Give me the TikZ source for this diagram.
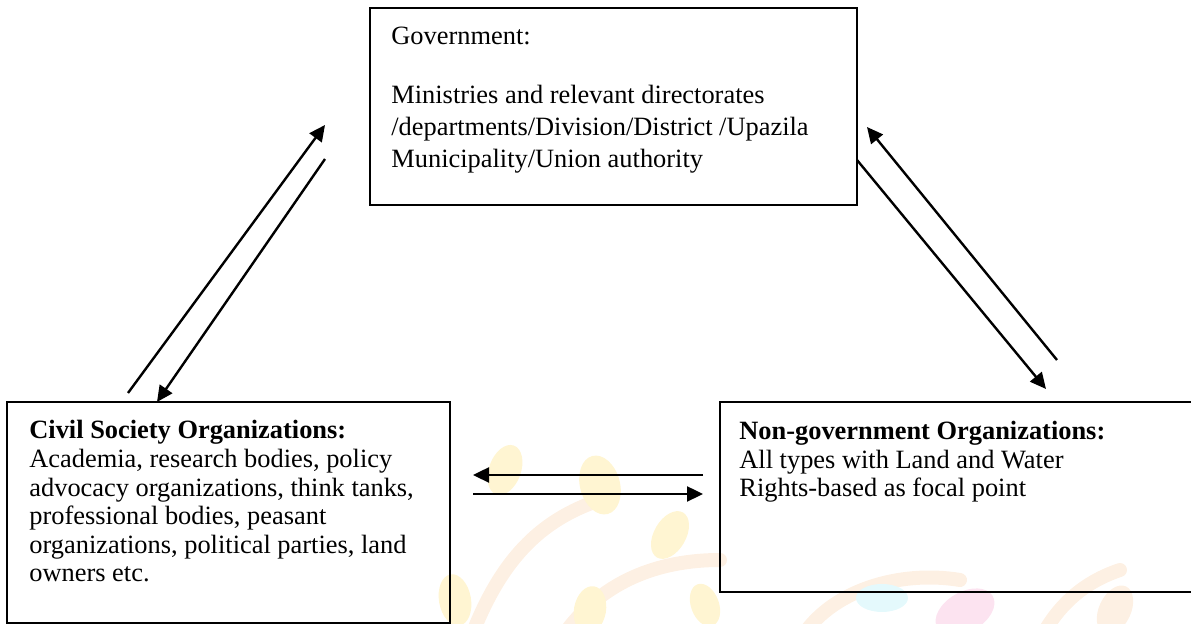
\documentclass[tikz,border=0pt]{standalone}
\usepackage{fontspec}
\setmainfont{Liberation Serif}
\usetikzlibrary{arrows.meta}
\definecolor{wmYellow}{HTML}{FFF5D2}
\definecolor{wmOrange}{HTML}{FDF0E3}
\definecolor{wmPink}{HTML}{FCE3F0}
\definecolor{wmCyan}{HTML}{E4F9FC}
\begin{document}
\begin{tikzpicture}[x=0.5pt,y=-0.5pt,
  box/.style={draw=black, line width=1.1pt, fill=none, inner sep=0pt},
  % anchor base west of a multi-line node sits on its last line
  txt/.style={anchor=base west, inner sep=0pt, align=left,
              font=\fontsize{13.2}{14.3}\selectfont},
  govtxt/.style={txt, font=\fontsize{13.2}{16}\selectfont},
  link/.style={line width=1.2pt, -{Triangle[length=8pt,width=7.5pt]}},
  leafY/.style={fill=wmYellow, draw=none},
  leafO/.style={fill=wmOrange, draw=none},
  leafP/.style={fill=wmPink, draw=none},
  leafC/.style={fill=wmCyan, draw=none},
  stem/.style={draw=wmOrange, line width=7pt, line cap=round}
]
\useasboundingbox (0,0) rectangle (1191,624);
\clip (0,0) rectangle (1191,624);

% faint tree logo in the background
\draw[stem] (470,640) .. controls (500,560) and (540,520) .. (600,500);
\draw[stem] (560,640) .. controls (600,580) and (660,560) .. (720,560);
\draw[stem] (800,640) .. controls (830,590) and (900,570) .. (960,580);
\draw[stem] (1040,640) .. controls (1060,600) and (1090,580) .. (1120,570);
\fill[leafY, rotate around={-20:(505,470)}] (505,470) ellipse (16 and 26);
\fill[leafY, rotate around={15:(600,485)}] (600,485) ellipse (20 and 30);
\fill[leafY, rotate around={-30:(670,535)}] (670,535) ellipse (16 and 26);
\fill[leafY, rotate around={10:(455,600)}] (455,600) ellipse (16 and 26);
\fill[leafY, rotate around={-10:(590,610)}] (590,610) ellipse (16 and 24);
\fill[leafY, rotate around={20:(705,605)}] (705,605) ellipse (14 and 22);
\fill[leafC] (882,598) ellipse (26 and 14);
\fill[leafP, rotate around={30:(965,612)}] (965,612) ellipse (32 and 20);
\fill[leafO, rotate around={-25:(1115,610)}] (1115,610) ellipse (16 and 26);

% boxes
\node[box, minimum width=243.5pt, minimum height=98.5pt] (gov) at (613.5,106.5) {};
\node[box, minimum width=221.5pt, minimum height=110.5pt] (cso) at (228.5,512.5) {};
\node[box, minimum width=240pt, minimum height=95pt] (ngo) at (960,497) {};

% box texts
\node[govtxt] (govhead) at (391,45) {Government:};
\node[govtxt] (govbody) at (391,168) {Ministries and relevant directorates\\
  /departments/Division/District /Upazila\\
  Municipality/Union authority};
\node[txt] (csotext) at (29,582) {\textbf{Civil Society Organizations:}\\
  Academia, research bodies, policy\\
  advocacy organizations, think tanks,\\
  professional bodies, peasant\\
  organizations, political parties, land\\
  owners etc.};
\node[txt] (ngotext) at (739,497) {\textbf{Non-government Organizations:}\\
  All types with Land and Water\\
  Rights-based as focal point};

% connector ends
\coordinate (csoUpStart) at (128,393);
\coordinate (govLeftIn) at (325,125);
\coordinate (govLeftOut) at (325,159);
\coordinate (csoTopIn) at (157,402);
\coordinate (ngoUpStart) at (1057,360);
\coordinate (govRightIn) at (867,127);
\coordinate (govRightOut) at (857,160);
\coordinate (ngoTopIn) at (1046,389);
\coordinate (ngoLeftOut) at (703,475);
\coordinate (csoRightIn) at (473,475);
\coordinate (csoRightOut) at (473,494);
\coordinate (ngoLeftIn) at (703,494);

% connectors
\draw[link] (csoUpStart) -- (govLeftIn);
\draw[link] (govLeftOut) -- (csoTopIn);
\draw[link] (ngoUpStart) -- (govRightIn);
\draw[link] (govRightOut) -- (ngoTopIn);
\draw[link] (ngoLeftOut) -- (csoRightIn);
\draw[link] (csoRightOut) -- (ngoLeftIn);
\end{tikzpicture}
\end{document}
